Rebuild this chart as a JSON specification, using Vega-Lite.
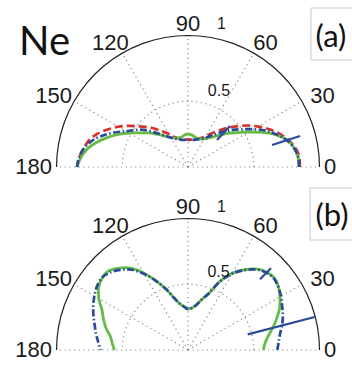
{
  "$schema": "https://vega.github.io/schema/vega-lite/v6.json",
  "padding": 0,
  "spacing": 0,
  "background": "white",
  "config": {"view": {"stroke": null}, "concat": {"spacing": 0}},
  "datasets": {
    "circ": [{"a":0},{"a":5},{"a":10},{"a":15},{"a":20},{"a":25},{"a":30},{"a":35},{"a":40},{"a":45},{"a":50},{"a":55},{"a":60},{"a":65},{"a":70},{"a":75},{"a":80},{"a":85},{"a":90},{"a":95},{"a":100},{"a":105},{"a":110},{"a":115},{"a":120},{"a":125},{"a":130},{"a":135},{"a":140},{"a":145},{"a":150},{"a":155},{"a":160},{"a":165},{"a":170},{"a":175},{"a":180}],
    "spokes": [{"a":0},{"a":30},{"a":60},{"a":90},{"a":120},{"a":150},{"a":180}],
    "labels": [{"t":"30","a":30},{"t":"60","a":60},{"t":"90","a":90},{"t":"120","a":120},{"t":"150","a":150}],
    "ag": [{"a":0,"r":0.844},{"a":5,"r":0.84},{"a":10,"r":0.821},{"a":15,"r":0.783},{"a":20,"r":0.715},{"a":25,"r":0.624},{"a":30,"r":0.532},{"a":35,"r":0.456},{"a":40,"r":0.4},{"a":45,"r":0.342},{"a":50,"r":0.3},{"a":55,"r":0.27},{"a":60,"r":0.247},{"a":65,"r":0.235},{"a":70,"r":0.228},{"a":75,"r":0.232},{"a":80,"r":0.24},{"a":85,"r":0.247},{"a":90,"r":0.251},{"a":95,"r":0.247},{"a":100,"r":0.237},{"a":105,"r":0.232},{"a":110,"r":0.234},{"a":115,"r":0.242},{"a":120,"r":0.259},{"a":125,"r":0.281},{"a":130,"r":0.316},{"a":135,"r":0.357},{"a":140,"r":0.403},{"a":145,"r":0.452},{"a":150,"r":0.517},{"a":155,"r":0.585},{"a":160,"r":0.654},{"a":165,"r":0.722},{"a":170,"r":0.78},{"a":175,"r":0.818},{"a":180,"r":0.844}],
    "ab": [{"a":0,"r":0.844},{"a":5,"r":0.842},{"a":10,"r":0.82},{"a":15,"r":0.78},{"a":20,"r":0.72},{"a":25,"r":0.655},{"a":30,"r":0.575},{"a":35,"r":0.5},{"a":40,"r":0.44},{"a":45,"r":0.38},{"a":50,"r":0.325},{"a":55,"r":0.285},{"a":60,"r":0.255},{"a":65,"r":0.237},{"a":70,"r":0.225},{"a":75,"r":0.215},{"a":80,"r":0.209},{"a":85,"r":0.206},{"a":90,"r":0.205},{"a":95,"r":0.206},{"a":100,"r":0.209},{"a":105,"r":0.215},{"a":110,"r":0.225},{"a":115,"r":0.238},{"a":120,"r":0.258},{"a":125,"r":0.285},{"a":130,"r":0.325},{"a":135,"r":0.38},{"a":140,"r":0.44},{"a":145,"r":0.49},{"a":150,"r":0.545},{"a":155,"r":0.62},{"a":160,"r":0.695},{"a":165,"r":0.76},{"a":170,"r":0.805},{"a":175,"r":0.832},{"a":180,"r":0.844}],
    "ar": [{"a":0,"r":0.85},{"a":5,"r":0.85},{"a":10,"r":0.83},{"a":15,"r":0.79},{"a":20,"r":0.74},{"a":25,"r":0.68},{"a":30,"r":0.615},{"a":35,"r":0.55},{"a":40,"r":0.48},{"a":45,"r":0.42},{"a":50,"r":0.36},{"a":55,"r":0.31},{"a":60,"r":0.27},{"a":65,"r":0.245},{"a":70,"r":0.23},{"a":75,"r":0.218},{"a":80,"r":0.212},{"a":85,"r":0.209},{"a":90,"r":0.208},{"a":95,"r":0.209},{"a":100,"r":0.213},{"a":105,"r":0.222},{"a":110,"r":0.235},{"a":115,"r":0.255},{"a":120,"r":0.29},{"a":125,"r":0.327},{"a":130,"r":0.375},{"a":135,"r":0.43},{"a":140,"r":0.48},{"a":145,"r":0.545},{"a":150,"r":0.612},{"a":155,"r":0.675},{"a":160,"r":0.735},{"a":165,"r":0.78},{"a":170,"r":0.806},{"a":175,"r":0.83},{"a":180,"r":0.845}],
    "bg": [{"a":0,"r":0.573},{"a":5,"r":0.588},{"a":10,"r":0.62},{"a":15,"r":0.67},{"a":20,"r":0.72},{"a":25,"r":0.77},{"a":30,"r":0.808},{"a":35,"r":0.84},{"a":40,"r":0.855},{"a":45,"r":0.84},{"a":50,"r":0.805},{"a":55,"r":0.745},{"a":60,"r":0.675},{"a":65,"r":0.578},{"a":70,"r":0.456},{"a":75,"r":0.395},{"a":80,"r":0.345},{"a":85,"r":0.32},{"a":90,"r":0.312},{"a":95,"r":0.33},{"a":100,"r":0.357},{"a":105,"r":0.41},{"a":110,"r":0.495},{"a":115,"r":0.585},{"a":120,"r":0.677},{"a":125,"r":0.76},{"a":130,"r":0.813},{"a":135,"r":0.852},{"a":140,"r":0.852},{"a":145,"r":0.83},{"a":150,"r":0.783},{"a":155,"r":0.722},{"a":160,"r":0.684},{"a":165,"r":0.646},{"a":170,"r":0.6},{"a":175,"r":0.578},{"a":180,"r":0.56}],
    "bb": [{"a":0,"r":0.679},{"a":5,"r":0.692},{"a":10,"r":0.711},{"a":15,"r":0.741},{"a":20,"r":0.768},{"a":25,"r":0.79},{"a":30,"r":0.817},{"a":35,"r":0.837},{"a":40,"r":0.85},{"a":45,"r":0.835},{"a":50,"r":0.8},{"a":55,"r":0.74},{"a":60,"r":0.67},{"a":65,"r":0.575},{"a":70,"r":0.455},{"a":75,"r":0.395},{"a":80,"r":0.345},{"a":85,"r":0.32},{"a":90,"r":0.312},{"a":95,"r":0.33},{"a":100,"r":0.357},{"a":105,"r":0.41},{"a":110,"r":0.495},{"a":115,"r":0.58},{"a":120,"r":0.668},{"a":125,"r":0.745},{"a":130,"r":0.795},{"a":135,"r":0.835},{"a":140,"r":0.855},{"a":145,"r":0.845},{"a":150,"r":0.822},{"a":155,"r":0.795},{"a":160,"r":0.765},{"a":165,"r":0.735},{"a":170,"r":0.71},{"a":175,"r":0.685},{"a":180,"r":0.664}],
    "sa": [{"x":0.2205,"y":0.2053,"x2":0.3194,"y2":0.3118},{"x":0.639,"y":0.167,"x2":0.852,"y2":0.236}],
    "sb": [{"x":0.5475,"y":0.538,"x2":0.631,"y2":0.621},{"x":0.454,"y":0.119,"x2":0.971,"y2":0.253}],
    "boxa": [{"x":0.935,"x2":1.5,"y":1.209,"y2":0.814}],
    "boxb": [{"x":0.928,"x2":1.5,"y":1.232,"y2":0.8365}]
  },
  "vconcat": [
    {
      "width": 352,
      "height": 182,
      "layer": [
        {
          "data": {"name": "circ"},
          "transform": [{"calculate": "cos(datum.a*PI/180)", "as": "x"}, {"calculate": "sin(datum.a*PI/180)", "as": "y"}],
          "mark": {"type": "line", "color": "#222222", "strokeWidth": 1.2},
          "encoding": {
            "x": {"field": "x", "type": "quantitative", "scale": {"domain": [-1.4297, 1.2471], "nice": false, "zero": false}, "axis": null},
            "y": {"field": "y", "type": "quantitative", "scale": {"domain": [-0.1141, 1.27], "nice": false, "zero": false}, "axis": null},
            "order": {"field": "a", "type": "quantitative"}
          }
        },
        {
          "data": {"name": "circ"},
          "transform": [{"calculate": "0.5*cos(datum.a*PI/180)", "as": "x"}, {"calculate": "0.5*sin(datum.a*PI/180)", "as": "y"}],
          "mark": {"type": "line", "color": "#8a8a8a", "strokeWidth": 1.2, "strokeDash": [1.2, 3.5]},
          "encoding": {
            "x": {"field": "x", "type": "quantitative", "scale": {"domain": [-1.4297, 1.2471], "nice": false, "zero": false}, "axis": null},
            "y": {"field": "y", "type": "quantitative", "scale": {"domain": [-0.1141, 1.27], "nice": false, "zero": false}, "axis": null},
            "order": {"field": "a", "type": "quantitative"}
          }
        },
        {
          "data": {"name": "spokes"},
          "transform": [{"calculate": "cos(datum.a*PI/180)", "as": "ex"}, {"calculate": "sin(datum.a*PI/180)", "as": "ey"}, {"calculate": "0", "as": "o"}],
          "mark": {"type": "rule", "color": "#8a8a8a", "strokeWidth": 1.2, "strokeDash": [1.2, 3.5]},
          "encoding": {
            "x": {"field": "o", "type": "quantitative", "scale": {"domain": [-1.4297, 1.2471], "nice": false, "zero": false}, "axis": null},
            "y": {"field": "o", "type": "quantitative", "scale": {"domain": [-0.1141, 1.27], "nice": false, "zero": false}, "axis": null},
            "x2": {"field": "ex"},
            "y2": {"field": "ey"}
          }
        },
        {
          "data": {"name": "ar"},
          "transform": [{"calculate": "datum.r*cos(datum.a*PI/180)", "as": "x"}, {"calculate": "datum.r*sin(datum.a*PI/180)", "as": "y"}],
          "mark": {"type": "line", "color": "#d7302a", "strokeWidth": 2.7, "strokeDash": [8, 4], "interpolate": "catmull-rom"},
          "encoding": {
            "x": {"field": "x", "type": "quantitative", "scale": {"domain": [-1.4297, 1.2471], "nice": false, "zero": false}, "axis": null},
            "y": {"field": "y", "type": "quantitative", "scale": {"domain": [-0.1141, 1.27], "nice": false, "zero": false}, "axis": null},
            "order": {"field": "a", "type": "quantitative"}
          }
        },
        {
          "data": {"name": "ag"},
          "transform": [{"calculate": "datum.r*cos(datum.a*PI/180)", "as": "x"}, {"calculate": "datum.r*sin(datum.a*PI/180)", "as": "y"}],
          "mark": {"type": "line", "color": "#66bb47", "strokeWidth": 2.8, "interpolate": "catmull-rom"},
          "encoding": {
            "x": {"field": "x", "type": "quantitative", "scale": {"domain": [-1.4297, 1.2471], "nice": false, "zero": false}, "axis": null},
            "y": {"field": "y", "type": "quantitative", "scale": {"domain": [-0.1141, 1.27], "nice": false, "zero": false}, "axis": null},
            "order": {"field": "a", "type": "quantitative"}
          }
        },
        {
          "data": {"name": "ab"},
          "transform": [{"calculate": "datum.r*cos(datum.a*PI/180)", "as": "x"}, {"calculate": "datum.r*sin(datum.a*PI/180)", "as": "y"}],
          "mark": {"type": "line", "color": "#2a4b9b", "strokeWidth": 2.7, "strokeDash": [7, 2.5, 1.5, 2.5], "interpolate": "catmull-rom"},
          "encoding": {
            "x": {"field": "x", "type": "quantitative", "scale": {"domain": [-1.4297, 1.2471], "nice": false, "zero": false}, "axis": null},
            "y": {"field": "y", "type": "quantitative", "scale": {"domain": [-0.1141, 1.27], "nice": false, "zero": false}, "axis": null},
            "order": {"field": "a", "type": "quantitative"}
          }
        },
        {
          "data": {"name": "sa"},
          "mark": {"type": "rule", "color": "#2a4b9b", "strokeWidth": 2.2},
          "encoding": {
            "x": {"field": "x", "type": "quantitative", "scale": {"domain": [-1.4297, 1.2471], "nice": false, "zero": false}, "axis": null},
            "y": {"field": "y", "type": "quantitative", "scale": {"domain": [-0.1141, 1.27], "nice": false, "zero": false}, "axis": null},
            "x2": {"field": "x2"},
            "y2": {"field": "y2"}
          }
        },
        {
          "data": {"name": "labels"},
          "transform": [{"calculate": "1.18*cos(datum.a*PI/180)", "as": "x"}, {"calculate": "1.085*sin(datum.a*PI/180)", "as": "y"}],
          "mark": {"type": "text", "font": "Liberation Sans", "fontSize": 22, "color": "#1a1a1a", "align": "center", "baseline": "middle"},
          "encoding": {
            "x": {"field": "x", "type": "quantitative", "scale": {"domain": [-1.4297, 1.2471], "nice": false, "zero": false}, "axis": null},
            "y": {"field": "y", "type": "quantitative", "scale": {"domain": [-0.1141, 1.27], "nice": false, "zero": false}, "axis": null},
            "text": {"field": "t", "type": "nominal"}
          }
        },
        {
          "data": {"values": [{"t": "0"}]},
          "mark": {"type": "text", "font": "Liberation Sans", "fontSize": 22, "color": "#1a1a1a", "align": "left", "baseline": "middle"},
          "encoding": {
            "x": {"datum": 1.035, "type": "quantitative", "scale": {"domain": [-1.4297, 1.2471], "nice": false, "zero": false}, "axis": null},
            "y": {"datum": 0, "type": "quantitative", "scale": {"domain": [-0.1141, 1.27], "nice": false, "zero": false}, "axis": null},
            "text": {"field": "t", "type": "nominal"}
          }
        },
        {
          "data": {"values": [{"t": "180"}]},
          "mark": {"type": "text", "font": "Liberation Sans", "fontSize": 22, "color": "#1a1a1a", "align": "right", "baseline": "middle"},
          "encoding": {
            "x": {"datum": -1.035, "type": "quantitative", "scale": {"domain": [-1.4297, 1.2471], "nice": false, "zero": false}, "axis": null},
            "y": {"datum": 0, "type": "quantitative", "scale": {"domain": [-0.1141, 1.27], "nice": false, "zero": false}, "axis": null},
            "text": {"field": "t", "type": "nominal"}
          }
        },
        {
          "data": {"values": [{"t": "1"}]},
          "mark": {"type": "text", "font": "Liberation Sans", "fontSize": 16, "color": "#1a1a1a", "align": "center", "baseline": "middle"},
          "encoding": {
            "x": {"datum": 0.255, "type": "quantitative", "scale": {"domain": [-1.4297, 1.2471], "nice": false, "zero": false}, "axis": null},
            "y": {"datum": 1.087, "type": "quantitative", "scale": {"domain": [-0.1141, 1.27], "nice": false, "zero": false}, "axis": null},
            "text": {"field": "t", "type": "nominal"}
          }
        },
        {
          "data": {"values": [{"t": "0.5"}]},
          "mark": {"type": "text", "font": "Liberation Sans", "fontSize": 16, "color": "#1a1a1a", "align": "center", "baseline": "middle"},
          "encoding": {
            "x": {"datum": 0.235, "type": "quantitative", "scale": {"domain": [-1.4297, 1.2471], "nice": false, "zero": false}, "axis": null},
            "y": {"datum": 0.575, "type": "quantitative", "scale": {"domain": [-0.1141, 1.27], "nice": false, "zero": false}, "axis": null},
            "text": {"field": "t", "type": "nominal"}
          }
        },
        {
          "data": {"values": [{"t": "Ne"}]},
          "mark": {"type": "text", "font": "Lato", "fontSize": 40, "color": "#111111", "align": "center", "baseline": "alphabetic"},
          "encoding": {
            "x": {"datum": -1.091, "type": "quantitative", "scale": {"domain": [-1.4297, 1.2471], "nice": false, "zero": false}, "axis": null},
            "y": {"datum": 0.852, "type": "quantitative", "scale": {"domain": [-0.1141, 1.27], "nice": false, "zero": false}, "axis": null},
            "text": {"field": "t", "type": "nominal"}
          }
        },
        {
          "data": {"name": "boxa"},
          "mark": {"type": "rect", "fill": "white", "stroke": "#c8c8c8", "strokeWidth": 1, "clip": true},
          "encoding": {
            "x": {"field": "x", "type": "quantitative", "scale": {"domain": [-1.4297, 1.2471], "nice": false, "zero": false}, "axis": null},
            "x2": {"field": "x2"},
            "y": {"field": "y", "type": "quantitative", "scale": {"domain": [-0.1141, 1.27], "nice": false, "zero": false}, "axis": null},
            "y2": {"field": "y2"}
          }
        },
        {
          "data": {"values": [{"t": "(a)"}]},
          "mark": {"type": "text", "font": "Lato", "fontSize": 31, "color": "#111111", "align": "center", "baseline": "middle"},
          "encoding": {
            "x": {"datum": 1.087, "type": "quantitative", "scale": {"domain": [-1.4297, 1.2471], "nice": false, "zero": false}, "axis": null},
            "y": {"datum": 0.981, "type": "quantitative", "scale": {"domain": [-0.1141, 1.27], "nice": false, "zero": false}, "axis": null},
            "text": {"field": "t", "type": "nominal"}
          }
        }
      ]
    },
    {
      "width": 352,
      "height": 183,
      "layer": [
        {
          "data": {"name": "circ"},
          "transform": [{"calculate": "cos(datum.a*PI/180)", "as": "x"}, {"calculate": "sin(datum.a*PI/180)", "as": "y"}],
          "mark": {"type": "line", "color": "#222222", "strokeWidth": 1.2},
          "encoding": {
            "x": {"field": "x", "type": "quantitative", "scale": {"domain": [-1.4297, 1.2471], "nice": false, "zero": false}, "axis": null},
            "y": {"field": "y", "type": "quantitative", "scale": {"domain": [-0.1141, 1.2776], "nice": false, "zero": false}, "axis": null},
            "order": {"field": "a", "type": "quantitative"}
          }
        },
        {
          "data": {"name": "circ"},
          "transform": [{"calculate": "0.5*cos(datum.a*PI/180)", "as": "x"}, {"calculate": "0.5*sin(datum.a*PI/180)", "as": "y"}],
          "mark": {"type": "line", "color": "#8a8a8a", "strokeWidth": 1.2, "strokeDash": [1.2, 3.5]},
          "encoding": {
            "x": {"field": "x", "type": "quantitative", "scale": {"domain": [-1.4297, 1.2471], "nice": false, "zero": false}, "axis": null},
            "y": {"field": "y", "type": "quantitative", "scale": {"domain": [-0.1141, 1.2776], "nice": false, "zero": false}, "axis": null},
            "order": {"field": "a", "type": "quantitative"}
          }
        },
        {
          "data": {"name": "spokes"},
          "transform": [{"calculate": "cos(datum.a*PI/180)", "as": "ex"}, {"calculate": "sin(datum.a*PI/180)", "as": "ey"}, {"calculate": "0", "as": "o"}],
          "mark": {"type": "rule", "color": "#8a8a8a", "strokeWidth": 1.2, "strokeDash": [1.2, 3.5]},
          "encoding": {
            "x": {"field": "o", "type": "quantitative", "scale": {"domain": [-1.4297, 1.2471], "nice": false, "zero": false}, "axis": null},
            "y": {"field": "o", "type": "quantitative", "scale": {"domain": [-0.1141, 1.2776], "nice": false, "zero": false}, "axis": null},
            "x2": {"field": "ex"},
            "y2": {"field": "ey"}
          }
        },
        {
          "data": {"name": "bg"},
          "transform": [{"calculate": "datum.r*cos(datum.a*PI/180)", "as": "x"}, {"calculate": "datum.r*sin(datum.a*PI/180)", "as": "y"}],
          "mark": {"type": "line", "color": "#66bb47", "strokeWidth": 2.8, "interpolate": "catmull-rom"},
          "encoding": {
            "x": {"field": "x", "type": "quantitative", "scale": {"domain": [-1.4297, 1.2471], "nice": false, "zero": false}, "axis": null},
            "y": {"field": "y", "type": "quantitative", "scale": {"domain": [-0.1141, 1.2776], "nice": false, "zero": false}, "axis": null},
            "order": {"field": "a", "type": "quantitative"}
          }
        },
        {
          "data": {"name": "bb"},
          "transform": [{"calculate": "datum.r*cos(datum.a*PI/180)", "as": "x"}, {"calculate": "datum.r*sin(datum.a*PI/180)", "as": "y"}],
          "mark": {"type": "line", "color": "#2a4b9b", "strokeWidth": 2.7, "strokeDash": [7, 2.5, 1.5, 2.5], "interpolate": "catmull-rom"},
          "encoding": {
            "x": {"field": "x", "type": "quantitative", "scale": {"domain": [-1.4297, 1.2471], "nice": false, "zero": false}, "axis": null},
            "y": {"field": "y", "type": "quantitative", "scale": {"domain": [-0.1141, 1.2776], "nice": false, "zero": false}, "axis": null},
            "order": {"field": "a", "type": "quantitative"}
          }
        },
        {
          "data": {"name": "sb"},
          "mark": {"type": "rule", "color": "#2a4b9b", "strokeWidth": 2.2},
          "encoding": {
            "x": {"field": "x", "type": "quantitative", "scale": {"domain": [-1.4297, 1.2471], "nice": false, "zero": false}, "axis": null},
            "y": {"field": "y", "type": "quantitative", "scale": {"domain": [-0.1141, 1.2776], "nice": false, "zero": false}, "axis": null},
            "x2": {"field": "x2"},
            "y2": {"field": "y2"}
          }
        },
        {
          "data": {"name": "labels"},
          "transform": [{"calculate": "1.18*cos(datum.a*PI/180)", "as": "x"}, {"calculate": "1.085*sin(datum.a*PI/180)", "as": "y"}],
          "mark": {"type": "text", "font": "Liberation Sans", "fontSize": 22, "color": "#1a1a1a", "align": "center", "baseline": "middle"},
          "encoding": {
            "x": {"field": "x", "type": "quantitative", "scale": {"domain": [-1.4297, 1.2471], "nice": false, "zero": false}, "axis": null},
            "y": {"field": "y", "type": "quantitative", "scale": {"domain": [-0.1141, 1.2776], "nice": false, "zero": false}, "axis": null},
            "text": {"field": "t", "type": "nominal"}
          }
        },
        {
          "data": {"values": [{"t": "0"}]},
          "mark": {"type": "text", "font": "Liberation Sans", "fontSize": 22, "color": "#1a1a1a", "align": "left", "baseline": "middle"},
          "encoding": {
            "x": {"datum": 1.035, "type": "quantitative", "scale": {"domain": [-1.4297, 1.2471], "nice": false, "zero": false}, "axis": null},
            "y": {"datum": 0, "type": "quantitative", "scale": {"domain": [-0.1141, 1.2776], "nice": false, "zero": false}, "axis": null},
            "text": {"field": "t", "type": "nominal"}
          }
        },
        {
          "data": {"values": [{"t": "180"}]},
          "mark": {"type": "text", "font": "Liberation Sans", "fontSize": 22, "color": "#1a1a1a", "align": "right", "baseline": "middle"},
          "encoding": {
            "x": {"datum": -1.035, "type": "quantitative", "scale": {"domain": [-1.4297, 1.2471], "nice": false, "zero": false}, "axis": null},
            "y": {"datum": 0, "type": "quantitative", "scale": {"domain": [-0.1141, 1.2776], "nice": false, "zero": false}, "axis": null},
            "text": {"field": "t", "type": "nominal"}
          }
        },
        {
          "data": {"values": [{"t": "1"}]},
          "mark": {"type": "text", "font": "Liberation Sans", "fontSize": 16, "color": "#1a1a1a", "align": "center", "baseline": "middle"},
          "encoding": {
            "x": {"datum": 0.255, "type": "quantitative", "scale": {"domain": [-1.4297, 1.2471], "nice": false, "zero": false}, "axis": null},
            "y": {"datum": 1.087, "type": "quantitative", "scale": {"domain": [-0.1141, 1.2776], "nice": false, "zero": false}, "axis": null},
            "text": {"field": "t", "type": "nominal"}
          }
        },
        {
          "data": {"values": [{"t": "0.5"}]},
          "mark": {"type": "text", "font": "Liberation Sans", "fontSize": 16, "color": "#1a1a1a", "align": "center", "baseline": "middle"},
          "encoding": {
            "x": {"datum": 0.232, "type": "quantitative", "scale": {"domain": [-1.4297, 1.2471], "nice": false, "zero": false}, "axis": null},
            "y": {"datum": 0.59, "type": "quantitative", "scale": {"domain": [-0.1141, 1.2776], "nice": false, "zero": false}, "axis": null},
            "text": {"field": "t", "type": "nominal"}
          }
        },
        {
          "data": {"name": "boxb"},
          "mark": {"type": "rect", "fill": "white", "stroke": "#c8c8c8", "strokeWidth": 1, "clip": true},
          "encoding": {
            "x": {"field": "x", "type": "quantitative", "scale": {"domain": [-1.4297, 1.2471], "nice": false, "zero": false}, "axis": null},
            "x2": {"field": "x2"},
            "y": {"field": "y", "type": "quantitative", "scale": {"domain": [-0.1141, 1.2776], "nice": false, "zero": false}, "axis": null},
            "y2": {"field": "y2"}
          }
        },
        {
          "data": {"values": [{"t": "(b)"}]},
          "mark": {"type": "text", "font": "Lato", "fontSize": 31, "color": "#111111", "align": "center", "baseline": "middle"},
          "encoding": {
            "x": {"datum": 1.095, "type": "quantitative", "scale": {"domain": [-1.4297, 1.2471], "nice": false, "zero": false}, "axis": null},
            "y": {"datum": 1.008, "type": "quantitative", "scale": {"domain": [-0.1141, 1.2776], "nice": false, "zero": false}, "axis": null},
            "text": {"field": "t", "type": "nominal"}
          }
        }
      ]
    }
  ]
}
